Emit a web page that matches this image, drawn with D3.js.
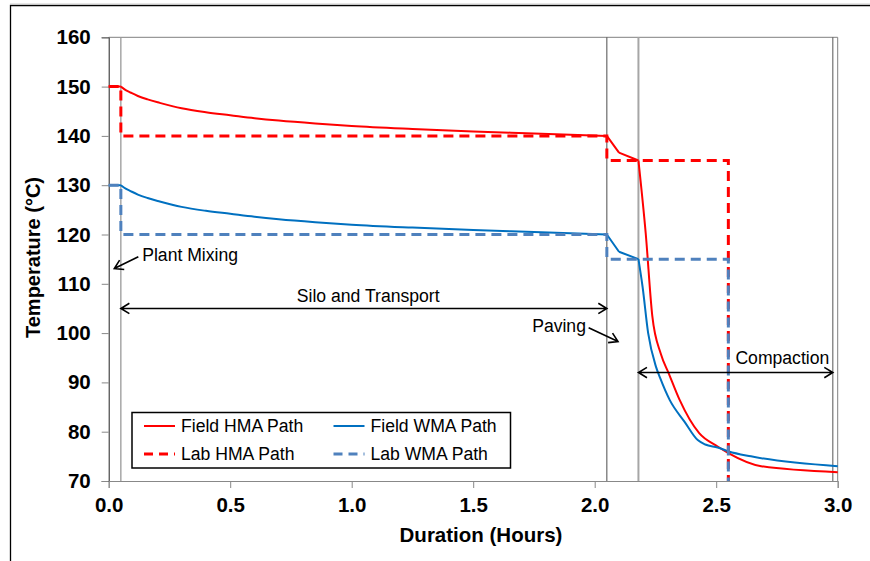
<!DOCTYPE html>
<html><head><meta charset="utf-8">
<script src="https://cdn.jsdelivr.net/npm/d3@7"></script>
<style>body{margin:0;background:#fff}svg{display:block}text{font-family:"Liberation Sans",Arial,sans-serif}</style>
</head><body><svg id="c" width="870" height="561"></svg>
<script>
// ---- data ----
const xTicks = [0, 0.5, 1.0, 1.5, 2.0, 2.5, 3.0];
const yTicks = [70, 80, 90, 100, 110, 120, 130, 140, 150, 160];

const fieldHMAHours = [0, 0.05, 0.07, 0.09, 0.12, 0.16, 0.21, 0.3, 0.4, 0.5, 0.6, 0.7, 0.85, 1.0, 1.25, 1.5, 1.75, 2.05, 2.1, 2.18, 2.21, 2.237, 2.272, 2.305, 2.349, 2.43, 2.506, 2.552, 2.685, 3.0];
const fieldHMATemps = [150, 150, 149.3, 148.8, 148.1, 147.4, 146.7, 145.6, 144.8, 144.2, 143.6, 143.1, 142.5, 142.0, 141.4, 140.9, 140.5, 140.0, 136.6, 135.0, 120.2, 103.5, 95.8, 91.8, 86.5, 79.7, 77.0, 75.6, 73.0, 71.8];

const fieldWMAHours = [0, 0.05, 0.07, 0.09, 0.12, 0.16, 0.21, 0.3, 0.4, 0.5, 0.6, 0.7, 0.85, 1.0, 1.25, 1.5, 1.75, 2.05, 2.1, 2.18, 2.197, 2.22, 2.252, 2.27, 2.309, 2.37, 2.424, 2.455, 2.506, 2.552, 2.643, 3.0];
const fieldWMATemps = [130, 130, 129.3, 128.8, 128.1, 127.4, 126.7, 125.6, 124.8, 124.2, 123.6, 123.1, 122.5, 122.0, 121.4, 120.9, 120.5, 120.0, 116.5, 115.0, 109.4, 100.0, 93.2, 90.8, 86.4, 82.0, 78.3, 77.4, 76.8, 76.0, 75.0, 73.0];

const labHMAHours = [0, 0.05, 0.05, 2.05, 2.05, 2.55, 2.55];
const labHMATemps = [150, 150, 140, 140, 135, 135, 70];
const labWMAHours = [0, 0.05, 0.05, 2.05, 2.05, 2.55, 2.55];
const labWMATemps = [130, 130, 120, 120, 115, 115, 70];

const seriesNames = ["Field HMA Path", "Field WMA Path", "Lab HMA Path", "Lab WMA Path"];
const phaseLines = [0.05, 2.05, 2.18, 2.98];   // stage boundaries (hours)
const kinkHours = [0.05, 2.05, 2.1, 2.18];     // where field curves change regime

// ---- layout ----
const svg = d3.select("#c");
const L = 108.7, R = 837.7, T = 37.3, B = 481;
const x = d3.scaleLinear().domain([0, 3]).range([L, R]);
const y = d3.scaleLinear().domain([70, 160]).range([B, T]);
const FONT = '"Liberation Sans",Arial,sans-serif';

// outer frame
svg.append("path").attr("d", "M10.5,561 V5.5 H870").attr("fill", "none").attr("stroke", "#000").attr("stroke-width", 1.3);
svg.append("path").attr("d", "M10,4 H870").attr("fill", "none").attr("stroke", "#ccc").attr("stroke-width", 1);

// plot frame (top/right)
svg.append("path").attr("d", `M${L},${T} H${R} V${B}`).attr("fill", "none").attr("stroke", "#808080").attr("stroke-width", 1);

// stage boundary lines
const phaseStyle = [
  {c: "#999", w: 1.3}, {c: "#4d4d4d", w: 1}, {c: "#a6a6a6", w: 2}, {c: "#555", w: 1}
];
phaseLines.forEach((h, i) => {
  svg.append("line").attr("x1", x(h)).attr("x2", x(h)).attr("y1", T).attr("y2", B)
    .attr("stroke", phaseStyle[i].c).attr("stroke-width", phaseStyle[i].w);
});

// axes
const yAxis = svg.append("g").attr("transform", `translate(${L},0)`)
  .call(d3.axisLeft(y).tickValues(yTicks).tickSize(7).tickPadding(11).tickFormat(d3.format("d")));
yAxis.select(".domain").attr("stroke", "#222");
yAxis.selectAll(".tick line").attr("stroke", "#888");
yAxis.selectAll("text").attr("font-size", 20.5).attr("font-weight", "bold").attr("fill", "#000").attr("font-family", FONT);

const xAxis = svg.append("g").attr("transform", `translate(0,${B})`)
  .call(d3.axisBottom(x).tickValues(xTicks).tickSize(7).tickPadding(9).tickFormat(d3.format(".1f")));
xAxis.select(".domain").attr("stroke", "#888");
xAxis.selectAll(".tick line").attr("stroke", "#888");
xAxis.selectAll("text").attr("font-size", 20.5).attr("font-weight", "bold").attr("fill", "#000").attr("font-family", FONT);

// axis titles
svg.append("text").attr("x", 481).attr("y", 541.5).attr("text-anchor", "middle")
  .attr("font-size", 20.5).attr("font-weight", "bold").text("Duration (Hours)");
svg.append("text").attr("transform", "translate(39.5,257.5) rotate(-90)").attr("text-anchor", "middle")
  .attr("font-size", 20).attr("font-weight", "bold").text("Temperature (°C)");

// series
const series = [
  {hours: fieldHMAHours, temps: fieldHMATemps, color: "#ff0000", w: 2, dash: null, smooth: true},
  {hours: fieldWMAHours, temps: fieldWMATemps, color: "#0070c0", w: 2, dash: null, smooth: true},
  {hours: labHMAHours, temps: labHMATemps, color: "#ff0000", w: 3, dash: "10,6", smooth: false},
  {hours: labWMAHours, temps: labWMATemps, color: "#4f81bd", w: 3, dash: "10,6", smooth: false}
];
const lineGen = d3.line().x(d => x(d[0])).y(d => y(d[1]));
series.forEach(s => {
  const pts = s.hours.map((h, i) => [h, s.temps[i]]);
  if (!s.smooth) {
    svg.append("path").attr("d", lineGen.curve(d3.curveLinear)(pts)).attr("fill", "none").attr("stroke", s.color)
      .attr("stroke-width", s.w).attr("stroke-dasharray", s.dash).attr("stroke-linejoin", "miter");
    return;
  }
  // split into pieces at kinks; smooth pieces with 3+ points
  const pieces = [];
  let cur = [pts[0]];
  for (let i = 1; i < pts.length; i++) {
    cur.push(pts[i]);
    if (kinkHours.includes(pts[i][0]) && i < pts.length - 1) { pieces.push(cur); cur = [pts[i]]; }
  }
  pieces.push(cur);
  const d = pieces.map(p => lineGen.curve(p.length >= 3 ? d3.curveMonotoneX : d3.curveLinear)(p)).join("");
  svg.append("path").attr("d", d).attr("fill", "none").attr("stroke", s.color)
    .attr("stroke-width", s.w).attr("stroke-linejoin", "round");
});

// annotations
function arrowHead(x1, y1, x2, y2) {
  const a = Math.atan2(y2 - y1, x2 - x1), len = 10, sp = 0.55;
  const p1 = [x2 - len * Math.cos(a - sp), y2 - len * Math.sin(a - sp)];
  const p2 = [x2 - len * Math.cos(a + sp), y2 - len * Math.sin(a + sp)];
  return `M${p1[0]},${p1[1]} L${x2},${y2} L${p2[0]},${p2[1]}`;
}
const arrows = [
  {h1: 0.122, t1: 115.5, h2: 0.023, t2: 113.1, both: false},
  {h1: 0.05, t1: 105, h2: 2.05, t2: 105, both: true},
  {h1: 1.975, t1: 101.1, h2: 2.096, t2: 98.3, both: false},
  {h1: 2.18, t1: 92, h2: 2.98, t2: 92, both: true}
];
arrows.forEach(a => {
  const x1 = x(a.h1), y1 = y(a.t1), x2 = x(a.h2), y2 = y(a.t2);
  let d = `M${x1},${y1} L${x2},${y2} ` + arrowHead(x1, y1, x2, y2);
  if (a.both) d += " " + arrowHead(x2, y2, x1, y1);
  svg.append("path").attr("d", d).attr("fill", "none").attr("stroke", "#000").attr("stroke-width", 1.6);
});
const labels = [
  {text: "Plant Mixing", h: 0.138, t: 114.6, anchor: "start"},
  {text: "Silo and Transport", h: 1.068, t: 106.4, anchor: "middle"},
  {text: "Paving", h: 1.964, t: 100.3, anchor: "end"},
  {text: "Compaction", h: 2.579, t: 93.7, anchor: "start"}
];
labels.forEach(l => {
  svg.append("text").attr("x", x(l.h)).attr("y", y(l.t)).attr("text-anchor", l.anchor)
    .attr("font-size", 17.6).attr("fill", "#000").text(l.text);
});

// legend
const lg = svg.append("g");
lg.append("rect").attr("x", 132).attr("y", 412.5).attr("width", 378.5).attr("height", 55.5)
  .attr("fill", "#fff").attr("stroke", "#000").attr("stroke-width", 1.5);
const legPos = [[144, 426], [333.5, 426], [144, 454], [333.5, 454]];
series.forEach((s, i) => {
  const [lx, ly] = legPos[i];
  lg.append("line").attr("x1", lx).attr("x2", lx + 31).attr("y1", ly).attr("y2", ly)
    .attr("stroke", s.color).attr("stroke-width", s.w).attr("stroke-dasharray", s.dash ? "9,6" : null);
  lg.append("text").attr("x", lx + 37).attr("y", ly + 6.2).attr("font-size", 17.6).text(seriesNames[i]);
});
</script></body></html>
